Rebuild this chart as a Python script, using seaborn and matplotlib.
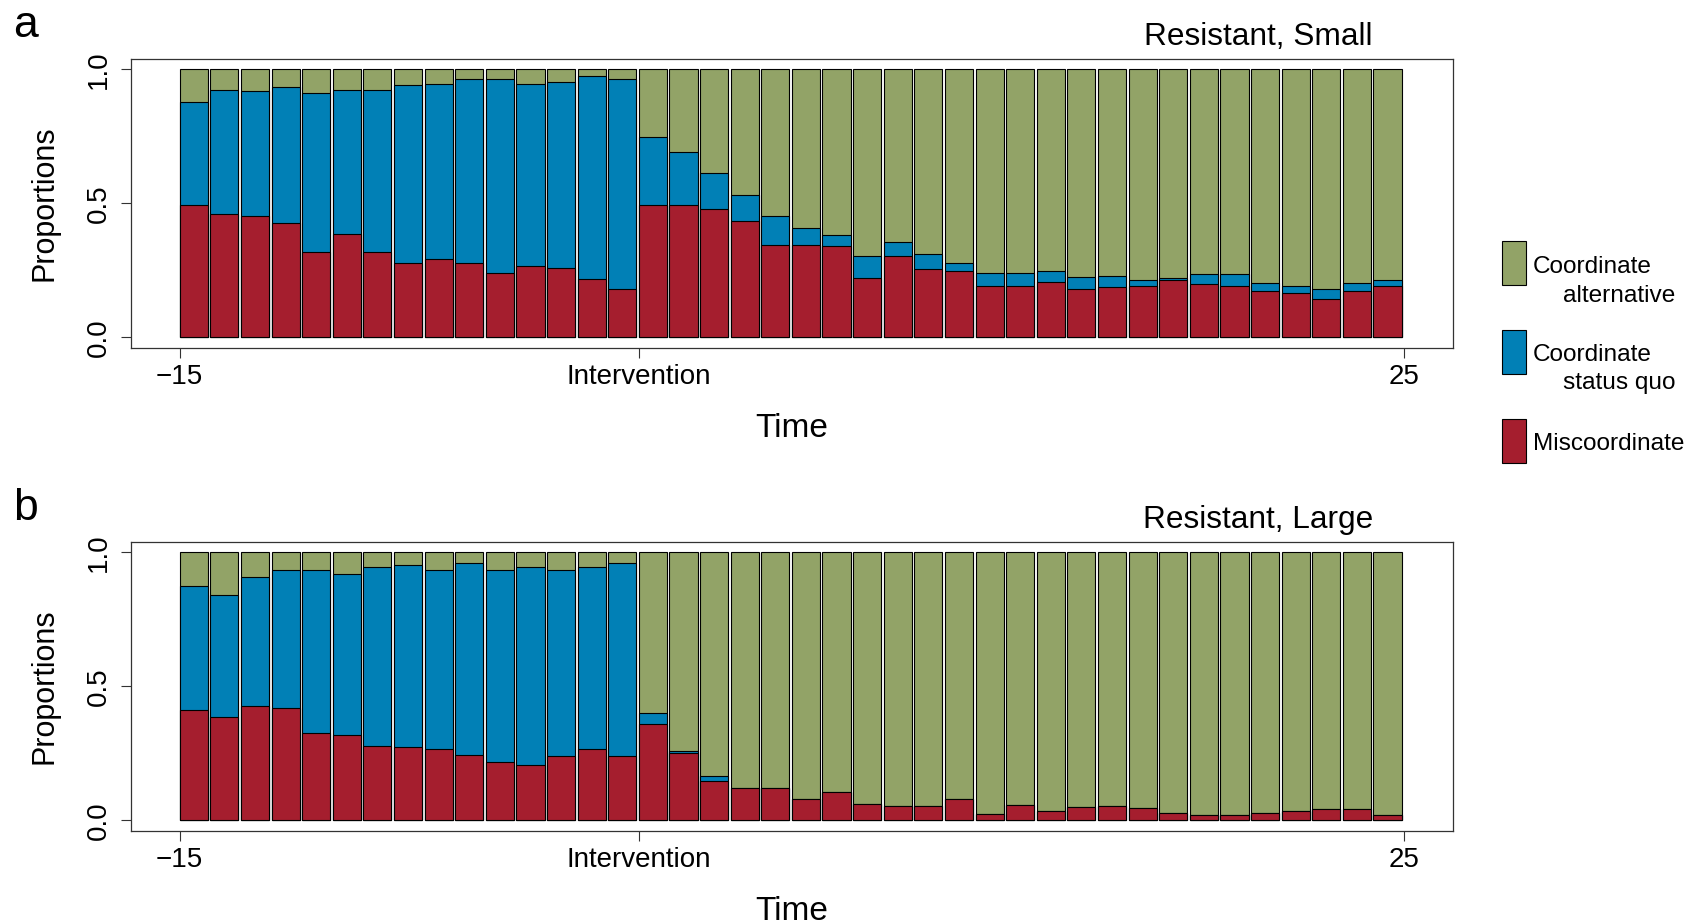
import numpy as np
import pandas as pd
import matplotlib
matplotlib.use("Agg")
import matplotlib.pyplot as plt
import seaborn as sns
from matplotlib.patches import Rectangle

# Time steps (each bar covers one period starting at t)
time = np.arange(-15, 25)

# Panel a: Resistant, Small
small_miscoord = [0.493, 0.459, 0.452, 0.425, 0.318, 0.386, 0.318, 0.279, 0.291, 0.279,
                  0.239, 0.265, 0.257, 0.218, 0.179, 0.493, 0.493, 0.479, 0.433, 0.343,
                  0.346, 0.340, 0.220, 0.304, 0.255, 0.248, 0.193, 0.193, 0.205, 0.179,
                  0.187, 0.192, 0.214, 0.199, 0.193, 0.172, 0.164, 0.144, 0.172, 0.192]
small_statusquo = [0.387, 0.466, 0.468, 0.508, 0.594, 0.539, 0.607, 0.661, 0.654, 0.687,
                   0.727, 0.680, 0.696, 0.756, 0.787, 0.254, 0.200, 0.133, 0.099, 0.109,
                   0.062, 0.041, 0.085, 0.050, 0.057, 0.030, 0.048, 0.048, 0.044, 0.047,
                   0.040, 0.023, 0.007, 0.036, 0.042, 0.030, 0.029, 0.035, 0.030, 0.023]

# Panel b: Resistant, Large
large_miscoord = [0.412, 0.386, 0.425, 0.419, 0.326, 0.318, 0.279, 0.272, 0.265, 0.245,
                  0.219, 0.205, 0.239, 0.265, 0.239, 0.358, 0.250, 0.146, 0.119, 0.119,
                  0.078, 0.106, 0.060, 0.052, 0.052, 0.080, 0.025, 0.056, 0.034, 0.049,
                  0.054, 0.047, 0.027, 0.020, 0.020, 0.027, 0.035, 0.041, 0.041, 0.020]
large_statusquo = [0.461, 0.454, 0.482, 0.514, 0.607, 0.601, 0.666, 0.681, 0.668, 0.714,
                   0.714, 0.740, 0.694, 0.680, 0.720, 0.041, 0.010, 0.020, 0.0, 0.0,
                   0.0, 0.0, 0.0, 0.0, 0.0, 0.0, 0.0, 0.0, 0.0, 0.0,
                   0.0, 0.0, 0.0, 0.0, 0.0, 0.0, 0.0, 0.0, 0.0, 0.0]

panel_titles = ["Resistant, Small", "Resistant, Large"]
panel_letters = ["a", "b"]
x_tick_values = [-15, 0, 25]
x_tick_labels = ["\u221215", "Intervention", "25"]
y_tick_values = [0.0, 0.5, 1.0]
y_tick_labels = ["0.0", "0.5", "1.0"]
legend_labels = ["Coordinate\n     alternative", "Coordinate\n     status quo", "Miscoordinate"]

GREEN = "#92A367"
BLUE = "#0180B6"
RED = "#A51E2E"

sns.set_theme(style="white")
plt.rcParams["font.family"] = ["Liberation Sans", "DejaVu Sans"]
plt.rcParams["text.color"] = "black"
plt.rcParams["axes.labelcolor"] = "black"
plt.rcParams["xtick.color"] = "black"
plt.rcParams["ytick.color"] = "black"

W, H = 1693, 924
fig = plt.figure(figsize=(W / 100, H / 100), dpi=100)


def px(x, y):
    return x / W, 1 - y / H


def draw_panel(ax, miscoord, statusquo):
    df = pd.DataFrame({"time": time, "mis": miscoord, "sq": statusquo})
    df["alt"] = 1.0 - df["mis"] - df["sq"]
    df["mid"] = df["time"] + 0.46
    layers = [
        (df["mis"] + df["sq"] + df["alt"], GREEN),
        (df["mis"] + df["sq"], BLUE),
        (df["mis"], RED),
    ]
    for heights, col in layers:
        sns.barplot(x=df["mid"], y=heights, native_scale=True, width=0.92,
                    color=col, saturation=1, errorbar=None,
                    edgecolor="black", linewidth=0.8, ax=ax)
    ax.set_xlim(-16.6, 26.6)
    ax.set_ylim(-0.04, 1.04)
    ax.set_xticks(x_tick_values)
    ax.set_xticklabels(x_tick_labels, fontsize=20)
    ax.set_yticks(y_tick_values)
    ax.set_yticklabels(y_tick_labels, fontsize=20, rotation=90, va="center")
    ax.tick_params(axis="both", length=7.2, width=0.8, color="#333333",
                   labelcolor="black", direction="out", bottom=True, left=True)
    ax.tick_params(axis="x", pad=4)
    ax.tick_params(axis="y", pad=6)
    for s in ax.spines.values():
        s.set_color("#333333")
        s.set_linewidth(0.9)
    ax.set_xlabel("Time", fontsize=24, labelpad=17)
    ax.set_ylabel("Proportions", fontsize=22)
    ax.yaxis.set_label_coords(-0.0535, 0.5)
    ax.grid(False)


ax_top = fig.add_axes([130.7 / W, 1 - 348 / H, 1322.3 / W, 289.3 / H])
ax_bot = fig.add_axes([130.7 / W, 1 - 831.1 / H, 1322.3 / W, 289.5 / H])

draw_panel(ax_top, small_miscoord, small_statusquo)
draw_panel(ax_bot, large_miscoord, large_statusquo)

# Panel titles and letters
for title, letter, ax_top_px in zip(panel_titles, panel_letters, [58.7, 541.6]):
    fig.text(*px(1373, ax_top_px - 13.7), title, ha="right", va="baseline", fontsize=22.8)
    fig.text(*px(13, ax_top_px - 22), letter, ha="left", va="baseline", fontsize=32)

# Legend at the right
legend_colors = [GREEN, BLUE, RED]
box_tops = [240.7, 330, 419]
text_baselines = [273.3, 360.7, 450]
for col, top, base, lab in zip(legend_colors, box_tops, text_baselines, legend_labels):
    x0, y0 = px(1501.7, top + 44.3)
    fig.patches.append(Rectangle((x0, y0), 24.3 / W, 44.3 / H, transform=fig.transFigure,
                                 facecolor=col, edgecolor="black", linewidth=0.8))
    lines = lab.split("\n")
    fig.text(*px(1532.7, base), lines[0], ha="left", va="baseline", fontsize=17.6)
    if len(lines) > 1:
        fig.text(*px(1562.7, base + 28.4), lines[1].strip(), ha="left", va="baseline", fontsize=17.6)

fig.savefig("out.png", dpi=100)
